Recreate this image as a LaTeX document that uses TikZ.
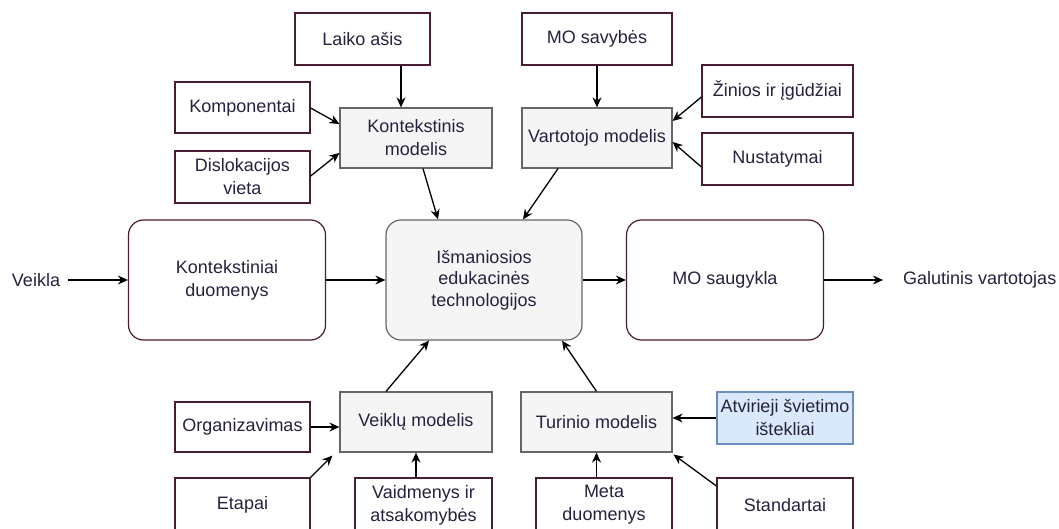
\documentclass[tikz,border=0pt]{standalone}
\usepackage{fontspec}
\setmainfont{Liberation Sans}
\usetikzlibrary{arrows.meta,calc}
\definecolor{ink}{HTML}{23233F}
\definecolor{rim}{HTML}{4A1C33}
\definecolor{greyrim}{HTML}{666666}
\definecolor{greyfill}{HTML}{F5F5F5}
\definecolor{bluerim}{HTML}{6C8EBF}
\definecolor{bluefill}{HTML}{DAE8FC}
\begin{document}
\begin{tikzpicture}[x=1pt,y=-1pt,
  every node/.style={text=ink, font=\fontsize{18}{23}\selectfont, align=center},
  box/.style={draw=rim, fill=white, line width=1.2pt, inner sep=0pt},
  modelbox/.style={draw=greyrim, fill=greyfill, line width=1.2pt, inner sep=0pt},
  bluebox/.style={draw=bluerim, fill=bluefill, line width=1.2pt, inner sep=0pt},
  bigbox/.style={draw=rim, fill=white, line width=1.2pt, inner sep=0pt, rounded corners=15pt,
    minimum width=197pt, minimum height=120pt},
  corebox/.style={draw=greyrim, fill=greyfill, line width=1.2pt, inner sep=0pt, rounded corners=15pt,
    minimum width=196pt, minimum height=120pt},
  plain/.style={inner sep=0pt, inner xsep=8pt},
  arr/.style={draw=black, line width=1.3pt, -{Stealth[length=10pt,width=9pt]}}
]
\useasboundingbox (0,0) rectangle (1059,529);

% top row
\node[box, minimum width=135pt, minimum height=52pt] (laiko) at (362.5,39) {Laiko ašis};
\node[box, minimum width=150pt, minimum height=52pt] (mosav) at (597,39) {MO savybės};

% context model and its inputs
\node[box, minimum width=135pt, minimum height=51pt] (komp) at (242.5,107.5) {Komponentai};
\node[box, minimum width=135pt, minimum height=52pt] (disl) at (242.5,177) {Dislokacijos\\vieta};
\node[modelbox, minimum width=152pt, minimum height=60pt] (kontm) at (416,138) {Kontekstinis\\modelis};

% user model and its inputs
\node[modelbox, minimum width=150pt, minimum height=60pt] (vartm) at (597,138) {Vartotojo modelis};
\node[box, minimum width=151pt, minimum height=52pt] (zinios) at (777.5,91) {Žinios ir įgūdžiai};
\node[box, minimum width=151pt, minimum height=52pt] (nust) at (777.5,159) {Nustatymai};

% main flow
\node[plain] (veikla) at (36,280) {Veikla};
\node[bigbox] (kdu) at (227,280) {Kontekstiniai\\duomenys};
\node[corebox, font=\fontsize{18}{21.5}\selectfont] (iet) at (484,280) {Išmaniosios\\edukacinės\\technologijos};
\node[bigbox] (mos) at (725,280) {MO saugykla};
\node[plain, anchor=west] (galut) at (895,280) {Galutinis vartotojas};

% activity model and its inputs
\node[modelbox, minimum width=152pt, minimum height=60pt] (veikm) at (416,422) {Veiklų modelis};
\node[box, minimum width=135pt, minimum height=50pt] (org) at (242.5,427) {Organizavimas};
\node[box, minimum width=135pt, minimum height=54pt] (etapai) at (242.5,505) {Etapai};
\node[box, minimum width=137pt, minimum height=54pt] (vaid) at (423.5,505) {Vaidmenys ir\\atsakomybės};

% content model and its inputs
\node[modelbox, minimum width=151pt, minimum height=60pt] (turm) at (596.5,422) {Turinio modelis};
\node[box, minimum width=136pt, minimum height=54pt] (meta) at (604,505) {Meta\\duomenys};
\node[bluebox, minimum width=136pt, minimum height=52pt] (atv) at (785,418) {Atvirieji švietimo\\ištekliai};
\node[box, minimum width=136pt, minimum height=54pt] (std) at (785,505) {Standartai};

% connectors: upper half
\draw[arr] ($(laiko.south)+(38.5,0)$) -- ($(kontm.north)+(-15,0)$);
\draw[arr] (mosav.south) -- (vartm.north);
\draw[arr] ($(komp.east)+(0,0.5)$) -- ($(kontm.west)+(0,-14)$);
\draw[arr] ($(disl.east)+(0,-1)$) -- ($(kontm.west)+(0,15)$);
\draw[arr] ($(zinios.west)+(0,6)$) -- ($(vartm.east)+(0,-17)$);
\draw[arr] ($(nust.west)+(0,8)$) -- ($(vartm.east)+(0,4)$);
\draw[arr] ($(kontm.south)+(7,0)$) -- ($(iet.north)+(-46,0)$);
\draw[arr] ($(vartm.south)+(-39,0)$) -- ($(iet.north)+(39,0)$);

% connectors: main flow
\draw[arr] (veikla.east) -- (kdu.west);
\draw[arr] (kdu.east) -- (iet.west);
\draw[arr] (iet.east) -- (mos.west);
\draw[arr, shorten >=12pt] (mos.east) -- (galut.west);

% connectors: lower half
\draw[arr] ($(veikm.north)+(-30,0)$) -- ($(iet.south)+(-55,0)$);
\draw[arr] (turm.north) -- ($(iet.south)+(78,0)$);
\draw[arr] (org.east) -- ($(veikm.west)+(0,5)$);
\draw[arr] (etapai.north east) -- ($(veikm.south west)+(-7,3)$);
\draw[arr] ($(vaid.north)+(-7.5,0)$) -- (veikm.south);
\draw[arr] ($(meta.north)+(-7.5,0)$) -- (turm.south);
\draw[arr] (atv.west) -- ($(turm.east)+(0,-4)$);
\draw[arr] ($(std.west)+(0,-19)$) -- ($(turm.south east)+(1,2)$);
\end{tikzpicture}
\end{document}
